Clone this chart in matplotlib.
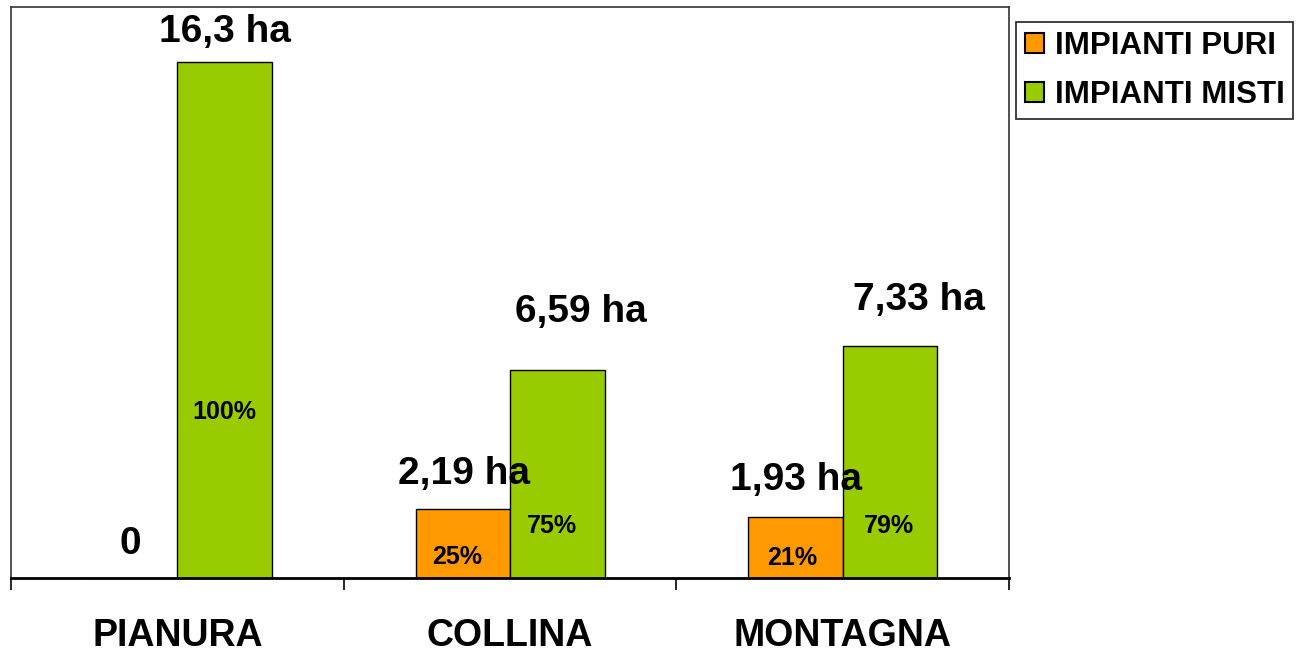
import numpy as np
import matplotlib
matplotlib.use('Agg')
import matplotlib.pyplot as plt

plt.rcParams['font.family'] = ['Liberation Sans', 'DejaVu Sans']
plt.rcParams['font.weight'] = 'bold'

# superficie (ha) per fascia altimetrica
zone = ['PIANURA', 'COLLINA', 'MONTAGNA']
serie = ['IMPIANTI PURI', 'IMPIANTI MISTI']
puri = [0, 2.19, 1.93]
misti = [16.3, 6.59, 7.33]
etichette_puri = ['0', '2,19 ha', '1,93 ha']
etichette_misti = ['16,3 ha', '6,59 ha', '7,33 ha']
perc_puri = ['', '25%', '21%']
perc_misti = ['100%', '75%', '79%']

colori = ['#FF9900', '#99CC00']

# label offsets in points (value labels above bars, percentages from the base)
off_val_puri = [(0, 17), (0.7, 18), (0.7, 19.4)]
off_val_misti = [(0, 14.4), (17, 34), (21, 26)]
off_perc_puri = [(0, 0), (-4.3, 10), (-2.2, 9.4)]
off_perc_misti = [(0, 114.5), (-3.6, 32.4), (-1, 32.4)]

fig = plt.figure(figsize=(12.97, 6.54), dpi=100)
ax = fig.add_axes([0.0085, 0.1162, 0.7695, 0.8731])

x = np.arange(len(zone))
w = 0.284
b1 = ax.bar(x - w / 2, puri, w, color=colori[0], edgecolor='black', linewidth=1, label=serie[0])
b2 = ax.bar(x + w / 2, misti, w, color=colori[1], edgecolor='black', linewidth=1, label=serie[1])

for i in range(len(zone)):
    ax.annotate(etichette_puri[i], (x[i] - w / 2, puri[i]), xytext=off_val_puri[i],
                textcoords='offset points', ha='center', va='baseline', fontsize=28,
                fontweight='bold')
    ax.annotate(etichette_misti[i], (x[i] + w / 2, misti[i]), xytext=off_val_misti[i],
                textcoords='offset points', ha='center', va='baseline', fontsize=28,
                fontweight='bold')
    if perc_puri[i]:
        ax.annotate(perc_puri[i], (x[i] - w / 2, 0), xytext=off_perc_puri[i],
                    textcoords='offset points', ha='center', va='baseline', fontsize=18,
                    fontweight='bold')
    ax.annotate(perc_misti[i], (x[i] + w / 2, 0), xytext=off_perc_misti[i],
                textcoords='offset points', ha='center', va='baseline', fontsize=18,
                fontweight='bold')

ax.set_xlim(-0.5, 2.5)
ax.set_ylim(0, 18.05)
ax.set_yticks([])
ax.set_xticks(x)
ax.set_xticklabels(zone, fontsize=27, fontweight='bold')
ax.tick_params(axis='x', which='major', length=0, pad=28.5)
ax.set_xticks(np.arange(-0.5, 3, 1), minor=True)
ax.tick_params(axis='x', which='minor', length=8.6, width=1.2, direction='out')

for s in ['top', 'left', 'right']:
    ax.spines[s].set_linewidth(1.2)
    ax.spines[s].set_color('#333333')
ax.spines['bottom'].set_linewidth(2)

leg = fig.legend(handles=[b1, b2], loc='upper left', bbox_to_anchor=(0.7834, 0.9664),
                 prop={'weight': 'bold', 'size': 22.5}, frameon=True, fancybox=False,
                 edgecolor='black', borderaxespad=0, handlelength=0.62, handleheight=0.62,
                 handletextpad=0.33, labelspacing=0.62, borderpad=0.28)
leg.get_frame().set_linewidth(1.3)
for h in leg.legend_handles:
    h.set_linewidth(1.5)

fig.savefig('out.png', dpi=100)
